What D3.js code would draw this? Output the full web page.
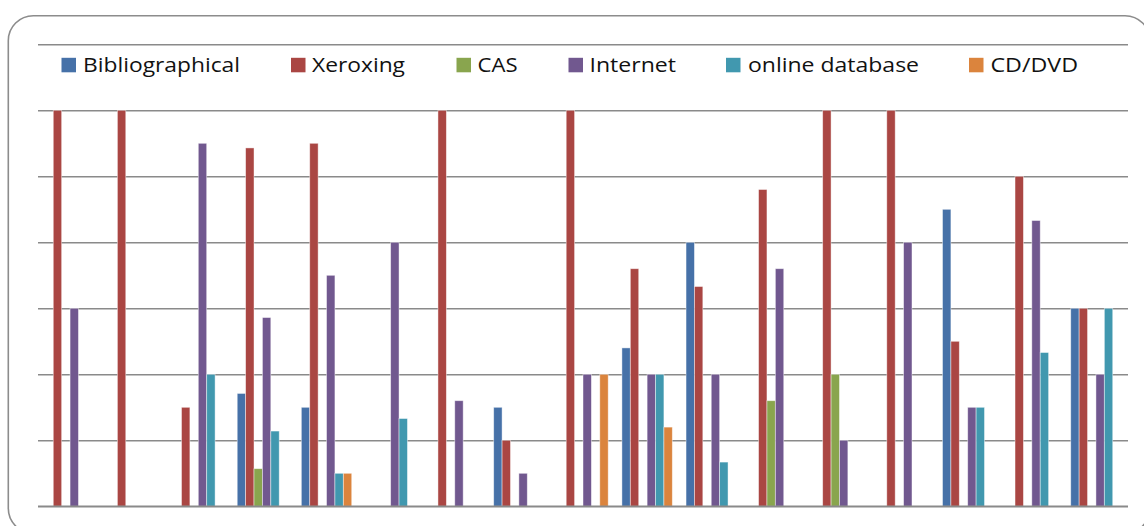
<!DOCTYPE html>
<html>
<head>
<meta charset="utf-8">
<script src="https://cdn.jsdelivr.net/npm/d3@7"></script>
<style>
  html, body { margin: 0; padding: 0; background: #fff; }
  svg { display: block; }
</style>
</head>
<body>
<svg id="chart" width="1144" height="526"></svg>
<script>
// Survey groups (17 respondents' groups) and the share (%) using each source
const categories = ["1","2","3","4","5","6","7","8","9","10","11","12","13","14","15","16","17"];
const seriesNames = ["Bibliographical", "Xeroxing", "CAS", "Internet", "online database", "CD/DVD"];
const bibliographical = [0, 0, 0, 17.1, 15, 0, 0, 15, 0, 24, 40, 0, 0, 0, 45, 0, 30];
const xeroxing        = [60, 60, 15, 54.3, 55, 0, 60, 10, 60, 36, 33.3, 48, 60, 60, 25, 50, 30];
const cas             = [0, 0, 0, 5.7, 0, 0, 0, 0, 0, 0, 0, 16, 20, 0, 0, 0, 0];
const internet        = [30, 0, 55, 28.6, 35, 40, 16, 5, 20, 20, 20, 36, 10, 40, 15, 43.3, 20];
const onlineDatabase  = [0, 0, 20, 11.4, 5, 13.3, 0, 0, 0, 20, 6.7, 0, 0, 0, 15, 23.3, 30];
const cdDvd           = [0, 0, 0, 0, 5, 0, 0, 0, 20, 12, 0, 0, 0, 0, 0, 0, 0];
const yTicks = [0, 10, 20, 30, 40, 50, 60, 70];

const seriesValues = [bibliographical, xeroxing, cas, internet, onlineDatabase, cdDvd];
const colors = ["#4671A8", "#AA4643", "#89A54E", "#71588F", "#4198AF", "#DB843D"];

const svg = d3.select("#chart");

// rounded chart frame
svg.append("rect")
  .attr("x", 8.3).attr("y", 15.7)
  .attr("width", 1141.7).attr("height", 517.6)
  .attr("rx", 25).attr("ry", 25)
  .attr("fill", "#fff")
  .attr("stroke", "#8c8c8c")
  .attr("stroke-width", 1.6);

const plot = { left: 38, right: 1128, top: 44.3, bottom: 506.3 };

const x0 = d3.scaleBand()
  .domain(categories)
  .range([plot.left, plot.right])
  .paddingInner(0.214)
  .paddingOuter(0.107);

const x1 = d3.scaleBand()
  .domain(seriesNames)
  .range([0, x0.bandwidth()]);

const y = d3.scaleLinear()
  .domain([0, 70])
  .range([plot.bottom, plot.top]);

// horizontal gridlines through a left axis with full-width ticks
const yAxis = d3.axisLeft(y)
  .tickValues(yTicks)
  .tickSize(-(plot.right - plot.left))
  .tickFormat("");

const gAxis = svg.append("g")
  .attr("transform", `translate(${plot.left},0)`)
  .call(yAxis);
gAxis.select(".domain").remove();
gAxis.selectAll(".tick line")
  .attr("stroke", "#8a8a8a")
  .attr("stroke-width", 1.5);

// grouped bars
const rows = categories.map((c, i) => ({
  cat: c,
  values: seriesNames.map((s, k) => ({ series: s, k: k, value: seriesValues[k][i] }))
}));

const groups = svg.append("g")
  .selectAll("g")
  .data(rows)
  .join("g")
  .attr("transform", d => `translate(${x0(d.cat)},0)`);

groups.selectAll("rect")
  .data(d => d.values.filter(v => v.value > 0))
  .join("rect")
  .attr("x", d => x1(d.series))
  .attr("y", d => y(d.value))
  .attr("width", x1.bandwidth())
  .attr("height", d => y(0) - y(d.value))
  .attr("fill", d => colors[d.k])
  .attr("stroke", "rgba(255,255,255,0.55)")
  .attr("stroke-width", 0.8);

// redraw baseline over the bars
svg.append("line")
  .attr("x1", plot.left).attr("x2", plot.right)
  .attr("y1", y(0)).attr("y2", y(0))
  .attr("stroke", "#8a8a8a")
  .attr("stroke-width", 1.5);

// legend
const legendItems = [
  { name: "Bibliographical", sx: 61.5, tx: 83, tw: 157 },
  { name: "Xeroxing", sx: 291, tx: 312, tw: 93 },
  { name: "CAS", sx: 456.5, tx: 477.5, tw: 40 },
  { name: "Internet", sx: 568.5, tx: 589.5, tw: 86.5 },
  { name: "online database", sx: 726, tx: 748, tw: 171 },
  { name: "CD/DVD", sx: 969, tx: 990.5, tw: 87.5 }
];

const legend = svg.append("g");
legend.selectAll("rect")
  .data(legendItems)
  .join("rect")
  .attr("x", d => d.sx)
  .attr("y", 57.8)
  .attr("width", 14.5)
  .attr("height", 14.5)
  .attr("fill", (d, i) => colors[i]);

legend.selectAll("text")
  .data(legendItems)
  .join("text")
  .attr("x", d => d.tx)
  .attr("y", 72)
  .attr("textLength", d => d.tw)
  .attr("lengthAdjust", "spacingAndGlyphs")
  .attr("font-family", "'Open Sans', Lato, sans-serif")
  .attr("font-size", 19.5)
  .attr("fill", "#111")
  .text(d => d.name);
</script>
</body>
</html>
